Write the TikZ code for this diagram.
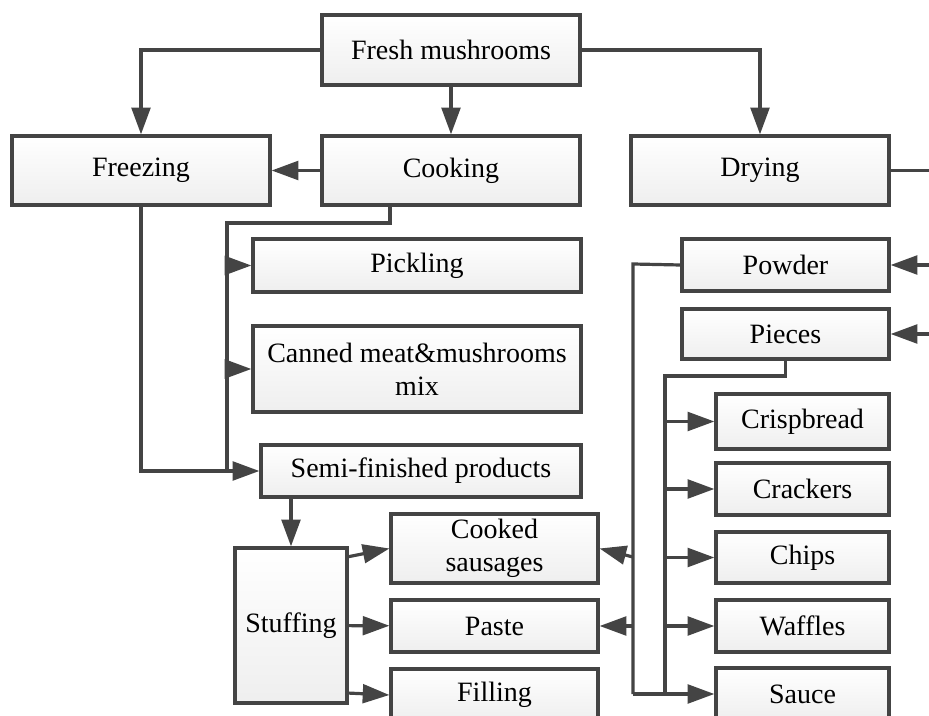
\documentclass[tikz,border=0pt]{standalone}
\usepackage{fontspec}
\setmainfont{Liberation Serif}
\usetikzlibrary{arrows.meta}
\definecolor{linegray}{RGB}{68,68,68}
\tikzset{
  box/.style 2 args={draw=linegray, line width=2.4pt, top color=white, bottom color=gray!13,
    inner sep=0pt, align=center, font=\fontsize{21}{25}\selectfont,
    minimum width=#1*0.75pt, minimum height=#2*0.75pt},
  conn/.style={draw=linegray, line width=2.4pt},
  arr/.style={conn, -{Triangle[length=20pt, width=14pt]}}
}
\begin{document}
\begin{tikzpicture}[x=0.75pt,y=0.75pt,yscale=-1,xscale=1]
\useasboundingbox (0,0) rectangle (929,716);
\clip (0,0) rectangle (929,716);

% Text Node
\node (fresh) at (451,50) [box={258}{70}] {Fresh mushrooms};
% Text Node
\node (freezing) at (141,170.5) [box={258}{69}] {Freezing};
% Text Node
\node (cooking) at (451,170.5) [box={258}{69}] {Cooking};
% Text Node
\node (drying) at (760,170.5) [box={258}{69}] {Drying};
% Text Node
\node (pickling) at (417,265.5) [box={328}{53}] {Pickling};
% Text Node
\node (canned) at (417,369) [box={328}{86}] {Canned meat\&mushrooms\\mix};
% Text Node
\node (semi) at (421,471) [box={320}{52}] {Semi-finished products};
% Text Node
\node (stuffing) at (291,625.5) [box={112}{155}] {Stuffing};
% Text Node
\node (cooked) at (494.5,548.5) [box={207}{69}] {Cooked\\sausages};
% Text Node
\node (paste) at (494.5,626) [box={207}{52}] {Paste};
% Text Node
\node (filling) at (494.5,695) [box={207}{52}] {Filling};
% Text Node
\node (powder) at (785.5,265) [box={207}{52}] {Powder};
% Text Node
\node (pieces) at (785.5,334) [box={207}{50}] {Pieces};
% Text Node
\node (crispbread) at (802.5,421.5) [box={173}{55}] {Crispbread};
% Text Node
\node (crackers) at (802.5,489) [box={173}{52}] {Crackers};
% Text Node
\node (chips) at (802.5,557.5) [box={173}{51}] {Chips};
% Text Node
\node (waffles) at (802.5,626) [box={173}{52}] {Waffles};
% Text Node
\node (sauce) at (802.5,694) [box={173}{52}] {Sauce};

\coordinate (cdrop) at (390,223);
\coordinate (cbus) at (227,223);
\coordinate (cend) at (227,472);
\coordinate (sA) at (347,557);
\coordinate (sC) at (347,693);
\coordinate (pwbus) at (633,264);
\coordinate (pcbus) at (665,376);
\coordinate (busend) at (633,694);
\coordinate (ck) at (633,557);
\coordinate (dryout) at (940,170.5);
\coordinate (powin) at (940,265);
\coordinate (piecin) at (940,334);

%Straight Lines
\draw [arr] (fresh.west) -| (freezing.north);
\draw [arr] (fresh) -- (cooking);
\draw [arr] (fresh.east) -| (drying.north);
\draw [arr] (cooking) -- (freezing);
\draw [conn] (drying.east) -- (dryout);
\draw [arr] (powin) -- (powder);
\draw [arr] (piecin) -- (pieces);

%Straight Lines
\draw [conn] (cooking.south -| cdrop) -- (cdrop) -- (cbus) -- (cend);
\draw [arr] (cbus |- pickling) -- (pickling);
\draw [arr] (cbus |- canned) -- (canned);
\draw [arr] (freezing.south) |- (semi.west);
\draw [arr] (semi.south -| stuffing) -- (stuffing);

%Straight Lines
\draw [arr] (sA) -- (cooked.west);
\draw [arr] (stuffing) -- (paste);
\draw [arr] (sC) -- (filling.west);

%Straight Lines
\draw [conn] (powder.west) -- (pwbus) -- (busend);
\draw [conn] (pieces.south) |- (pcbus) -- (pcbus |- sauce);
\foreach \n in {crispbread,crackers,chips,waffles,sauce}
  \draw [arr] (pcbus |- \n) -- (\n);
\draw [conn] (busend) -- (pcbus |- sauce);
\draw [arr] (ck) -- (cooked.east);
\draw [arr] (pwbus |- paste) -- (paste);

\end{tikzpicture}
\end{document}
